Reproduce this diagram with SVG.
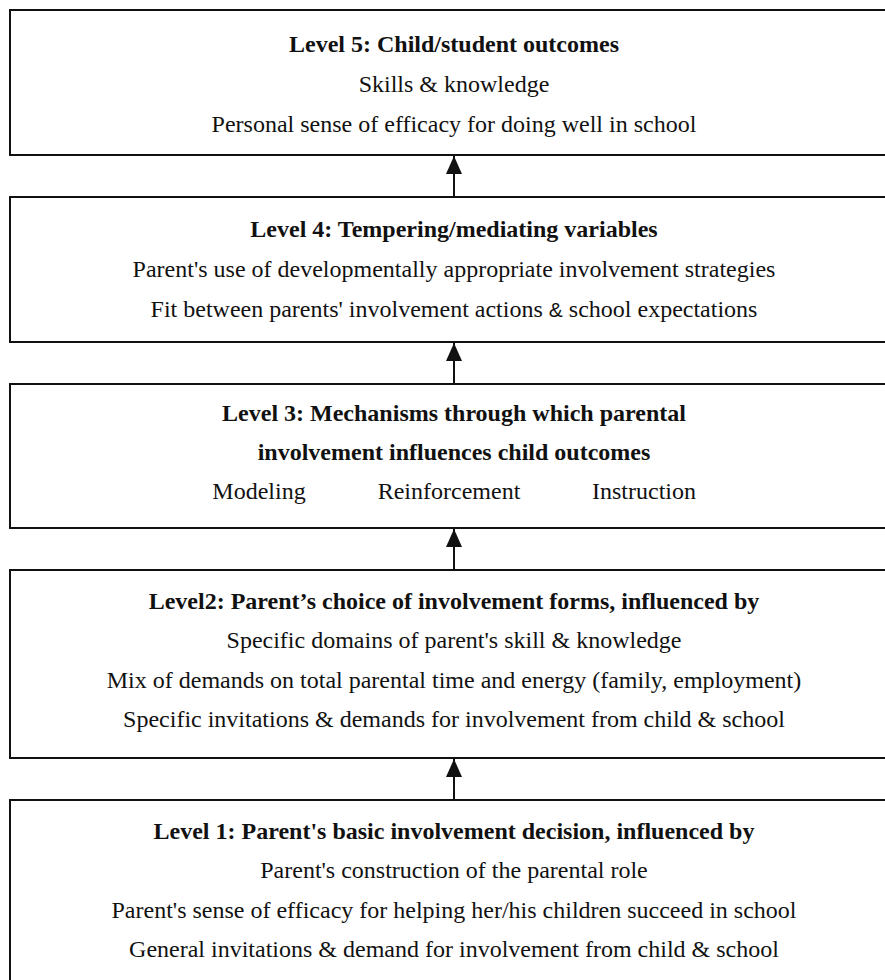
<svg xmlns="http://www.w3.org/2000/svg" width="885" height="980" viewBox="0 0 885 980">
<style>
.box{fill:#fff;stroke:#111;stroke-width:2}
text{font-family:"Times New Roman","Liberation Serif",Tinos,serif;font-size:24px;fill:#111;text-anchor:middle}
.b{font-weight:bold}
.conn line{stroke:#111;stroke-width:2}
.s{font-family:"Liberation Sans",Arial,sans-serif;font-size:21px}
</style>
<defs>
<marker id="ah" viewBox="0 0 18 16" refX="18" refY="8" markerWidth="18" markerHeight="16" markerUnits="userSpaceOnUse" orient="auto">
<path d="M0,0 L18,8 L0,16 Z" fill="#111"/>
</marker>
</defs>
<rect width="885" height="980" fill="#fff"/>
<g id="level5">
<rect class="box" x="10" y="10" width="890" height="145"/>
<text class="b" x="454" y="52">Level 5: Child/student outcomes</text>
<text x="454" y="92">Skills &amp; knowledge</text>
<text x="454" y="132">Personal sense of efficacy for doing well in school</text>
</g>
<g id="level4">
<rect class="box" x="10" y="197" width="890" height="145"/>
<text class="b" x="454" y="237">Level 4: Tempering/mediating variables</text>
<text x="454" y="277">Parent's use of developmentally appropriate involvement strategies</text>
<text x="454" y="317">Fit between parents' involvement actions <tspan class="s">&amp;</tspan> school expectations</text>
</g>
<g id="level3">
<rect class="box" x="10" y="384" width="890" height="144"/>
<text class="b" x="454" y="421">Level 3: Mechanisms through which parental</text>
<text class="b" x="454" y="460">involvement influences child outcomes</text>
<text x="259" y="499">Modeling</text>
<text x="449" y="499">Reinforcement</text>
<text x="644" y="499">Instruction</text>
</g>
<g id="level2">
<rect class="box" x="10" y="570" width="890" height="188"/>
<text class="b" x="454" y="609">Level2: Parent’s choice of involvement forms, influenced by</text>
<text x="454" y="648">Specific domains of parent's skill &amp; knowledge</text>
<text x="454" y="688">Mix of demands on total parental time and energy (family, employment)</text>
<text x="454" y="727">Specific invitations &amp; demands for involvement from child &amp; school</text>
</g>
<g id="level1">
<rect class="box" x="10" y="800" width="890" height="200"/>
<text class="b" x="454" y="839">Level 1: Parent's basic involvement decision, influenced by</text>
<text x="454" y="878">Parent's construction of the parental role</text>
<text x="454" y="918">Parent's sense of efficacy for helping her/his children succeed in school</text>
<text x="454" y="957">General invitations &amp; demand for involvement from child &amp; school</text>
</g>
<g id="connectors" class="conn">
<line x1="454" y1="197" x2="454" y2="156" marker-end="url(#ah)"/>
<line x1="454" y1="384" x2="454" y2="343" marker-end="url(#ah)"/>
<line x1="454" y1="570" x2="454" y2="529" marker-end="url(#ah)"/>
<line x1="454" y1="800" x2="454" y2="759" marker-end="url(#ah)"/>
</g>
</svg>
